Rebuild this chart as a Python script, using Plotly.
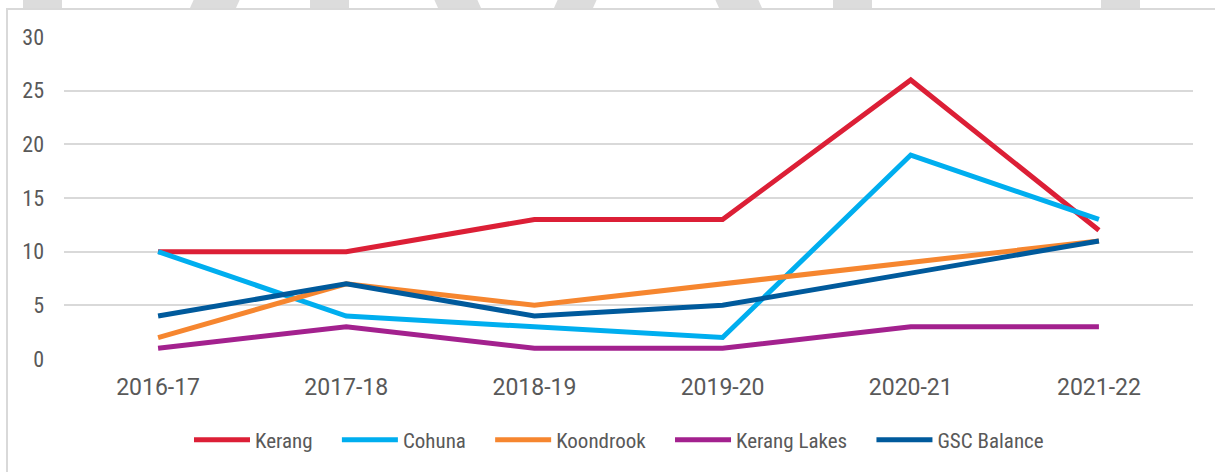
import plotly.graph_objects as go

years = ["2016-17", "2017-18", "2018-19", "2019-20", "2020-21", "2021-22"]
kerang = [10, 10, 13, 13, 26, 12]
cohuna = [10, 4, 3, 2, 19, 13]
koondrook = [2, 7, 5, 7, 9, 11]
kerang_lakes = [1, 3, 1, 1, 3, 3]
gsc_balance = [4, 7, 4, 5, 8, 11]

series = [
    ("Kerang", kerang, "#DC1F36"),
    ("Cohuna", cohuna, "#00AEEF"),
    ("Koondrook", koondrook, "#F6862F"),
    ("Kerang Lakes", kerang_lakes, "#A3218E"),
    ("GSC Balance", gsc_balance, "#005A9C"),
]

NARROW = "Liberation Sans Narrow, Roboto Condensed, Roboto, sans-serif"
PAD = "\u00a0" * 4

fig = go.Figure()
for name, vals, col in series:
    fig.add_trace(go.Scatter(x=years, y=vals, name=name + PAD, mode="lines",
                             line=dict(color=col, width=5)))

L, R, T, B = 64, 22, 37, 113
W, H = 1215, 472
pw, ph = W - L - R, H - T - B

def px(x):
    return (x - L) / pw

def py(y):
    return (H - B - y) / ph

shapes = []
# border box
shapes.append(dict(type="rect", xref="paper", yref="paper",
                   x0=px(7), x1=px(1230), y0=py(480), y1=py(9),
                   line=dict(color="#D9D9D9", width=2), fillcolor="rgba(0,0,0,0)", layer="below"))
# gray decorative blocks at top
blocks = [(23, 62, 0), (190, 236, 1), (310, 349, 0), (438, 481, -1), (554, 593, 1),
          (719, 762, -1), (833, 872, 0), (1101, 1140, 0)]
for x0, x1, s in blocks:
    sl = 4 * s
    path = "M {a},{b} L {c},{b} L {d},{e} L {f},{e} Z".format(
        a=px(x0 + sl), c=px(x1 + sl), b=py(-1), d=px(x1), e=py(8), f=px(x0))
    shapes.append(dict(type="path", xref="paper", yref="paper", path=path,
                       fillcolor="#DCDCDC", line=dict(width=0), layer="below"))

fig.update_layout(
    width=W, height=H,
    margin=dict(l=L, r=R, t=T, b=B),
    plot_bgcolor="white", paper_bgcolor="white",
    font=dict(family=NARROW, color="#595959"),
    shapes=shapes,
    showlegend=True,
    legend=dict(orientation="h", x=0.5, xanchor="center", y=py(440), yanchor="middle",
                font=dict(size=21, color="#595959", family=NARROW),
                itemwidth=56, traceorder="normal"),
    xaxis=dict(range=[-0.5, 5.5], showgrid=False, zeroline=False, showline=False,
               ticks="", tickfont=dict(size=23, color="#595959", family="Roboto, sans-serif"),
               ticklabelstandoff=12),
    yaxis=dict(range=[0, 30], dtick=5, showgrid=True, gridcolor="#D9D9D9", gridwidth=1.5,
               zeroline=False, showline=False, ticks="",
               tickfont=dict(size=22, color="#595959", family=NARROW),
               ticklabelstandoff=19),
)

fig.write_html("out.html", config={"displayModeBar": False},
               post_script="document.body.style.margin='0';document.body.style.overflow='hidden';")
